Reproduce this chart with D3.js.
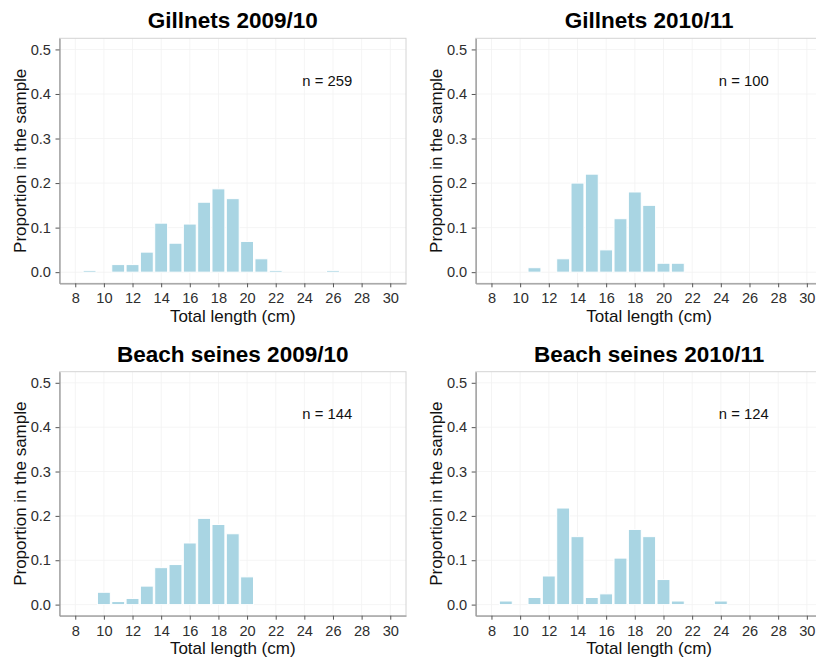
<!DOCTYPE html>
<html>
<head>
<meta charset="utf-8">
<script src="https://cdn.jsdelivr.net/npm/d3@7"></script>
<style>
  html, body { margin: 0; padding: 0; background: #fff; overflow: hidden; }
  svg { display: block; font-family: "Liberation Sans", Arial, sans-serif; }
</style>
</head>
<body>
<svg id="chart" width="816" height="663"></svg>
<script>
// Length-frequency histograms of the catch, by gear and season
const panelTitles = ["Gillnets 2009/10", "Gillnets 2010/11", "Beach seines 2009/10", "Beach seines 2010/11"];
const sampleSizes = [259, 100, 144, 124];

const lengthTicks = [8, 10, 12, 14, 16, 18, 20, 22, 24, 26, 28, 30];
const proportionTicks = [0, 0.1, 0.2, 0.3, 0.4, 0.5];

// Total length class (cm) and proportion of the sample in each class
const gill0910Length = [9, 11, 12, 13, 14, 15, 16, 17, 18, 19, 20, 21, 22, 26];
const gill0910Prop   = [0.004, 0.017, 0.017, 0.045, 0.110, 0.065, 0.108, 0.157, 0.187, 0.165, 0.069, 0.030, 0.004, 0.004];

const gill1011Length = [11, 13, 14, 15, 16, 17, 18, 19, 20, 21];
const gill1011Prop   = [0.01, 0.03, 0.20, 0.22, 0.05, 0.12, 0.18, 0.15, 0.02, 0.02];

const beach0910Length = [10, 11, 12, 13, 14, 15, 16, 17, 18, 19, 20];
const beach0910Prop   = [0.0278, 0.0069, 0.0139, 0.0417, 0.0833, 0.0903, 0.1389, 0.1944, 0.1806, 0.1597, 0.0625];

const beach1011Length = [9, 11, 12, 13, 14, 15, 16, 17, 18, 19, 20, 21, 24];
const beach1011Prop   = [0.0081, 0.0161, 0.0645, 0.2177, 0.1532, 0.0161, 0.0242, 0.1048, 0.1694, 0.1532, 0.0565, 0.0081, 0.0081];

const panelLengths = [gill0910Length, gill1011Length, beach0910Length, beach1011Length];
const panelProps   = [gill0910Prop, gill1011Prop, beach0910Prop, beach1011Prop];

// Panel frames (pixel boxes of each plotting area)
const frames = [
  { left: 59.5,  top: 38.3,  right: 406,   bottom: 283.3 },
  { left: 475.7, top: 38.3,  right: 822.6, bottom: 283.3 },
  { left: 59.5,  top: 371.7, right: 406,   bottom: 615.7 },
  { left: 475.7, top: 371.7, right: 822.6, bottom: 615.7 }
];

const svg = d3.select("#chart");
const barFill = "#a9d5e3";

frames.forEach((f, i) => {
  const x = d3.scaleLinear().domain([6.9, 31.1]).range([f.left, f.right]);
  const y = d3.scaleLinear().domain([-0.025, 0.525]).range([f.bottom, f.top]);
  const g = svg.append("g");

  // faint major grid
  g.append("g").selectAll("line.gx").data(lengthTicks).join("line")
    .attr("x1", d => x(d)).attr("x2", d => x(d))
    .attr("y1", f.top).attr("y2", f.bottom)
    .attr("stroke", "#f1f1f1").attr("stroke-width", 0.8);
  g.append("g").selectAll("line.gy").data(proportionTicks).join("line")
    .attr("x1", f.left).attr("x2", f.right)
    .attr("y1", d => y(d)).attr("y2", d => y(d))
    .attr("stroke", "#f1f1f1").attr("stroke-width", 0.8);

  // panel border
  g.append("rect")
    .attr("x", f.left).attr("y", f.top)
    .attr("width", f.right - f.left).attr("height", f.bottom - f.top)
    .attr("fill", "none").attr("stroke", "#d4d4d4").attr("stroke-width", 1);

  // bars
  const rows = panelLengths[i].map((len, k) => ({ len, p: panelProps[i][k] }));
  g.append("g").selectAll("rect").data(rows).join("rect")
    .attr("x", d => x(d.len - 0.45))
    .attr("width", d => x(d.len + 0.45) - x(d.len - 0.45))
    .attr("y", d => y(d.p))
    .attr("height", d => y(0) - y(d.p))
    .attr("fill", barFill)
    .attr("stroke", "#ffffff").attr("stroke-width", 1);

  // axes
  const xAxis = g.append("g")
    .attr("transform", `translate(0,${f.bottom})`)
    .call(d3.axisBottom(x).tickValues(lengthTicks).tickSize(4).tickSizeOuter(0).tickPadding(5.6));
  const yAxis = g.append("g")
    .attr("transform", `translate(${f.left},0)`)
    .call(d3.axisLeft(y).tickValues(proportionTicks).tickFormat(d3.format(".1f"))
      .tickSize(4).tickSizeOuter(0).tickPadding(4.5));

  [xAxis, yAxis].forEach(a => {
    a.select(".domain").attr("stroke", "#9a9a9a").attr("stroke-width", 1.3);
    a.selectAll(".tick line").attr("stroke", "#555").attr("stroke-width", 1);
    a.selectAll(".tick text")
      .attr("fill", "#2e2e2e")
      .style("font-size", "14.6px")
      .style("font-family", "'Liberation Sans', Arial, sans-serif");
  });

  // titles
  const cx = (f.left + f.right) / 2;
  g.append("text")
    .attr("x", cx).attr("y", f.top - 10)
    .attr("text-anchor", "middle")
    .style("font-size", "22.5px").style("font-weight", "bold")
    .attr("fill", "#000")
    .text(panelTitles[i]);

  g.append("text")
    .attr("x", cx).attr("y", f.bottom + 38.7)
    .attr("text-anchor", "middle")
    .style("font-size", "17px")
    .attr("fill", "#111")
    .text("Total length (cm)");

  g.append("text")
    .attr("transform", `translate(${f.left - 34},${(f.top + f.bottom) / 2}) rotate(-90)`)
    .attr("text-anchor", "middle")
    .style("font-size", "17px")
    .attr("fill", "#111")
    .text("Proportion in the sample");

  // sample size annotation
  g.append("text")
    .attr("x", x(25.6)).attr("y", y(0.43))
    .attr("text-anchor", "middle")
    .attr("dominant-baseline", "central")
    .style("font-size", "14.8px")
    .attr("fill", "#111")
    .text(`n = ${sampleSizes[i]}`);
});
</script>
</body>
</html>
